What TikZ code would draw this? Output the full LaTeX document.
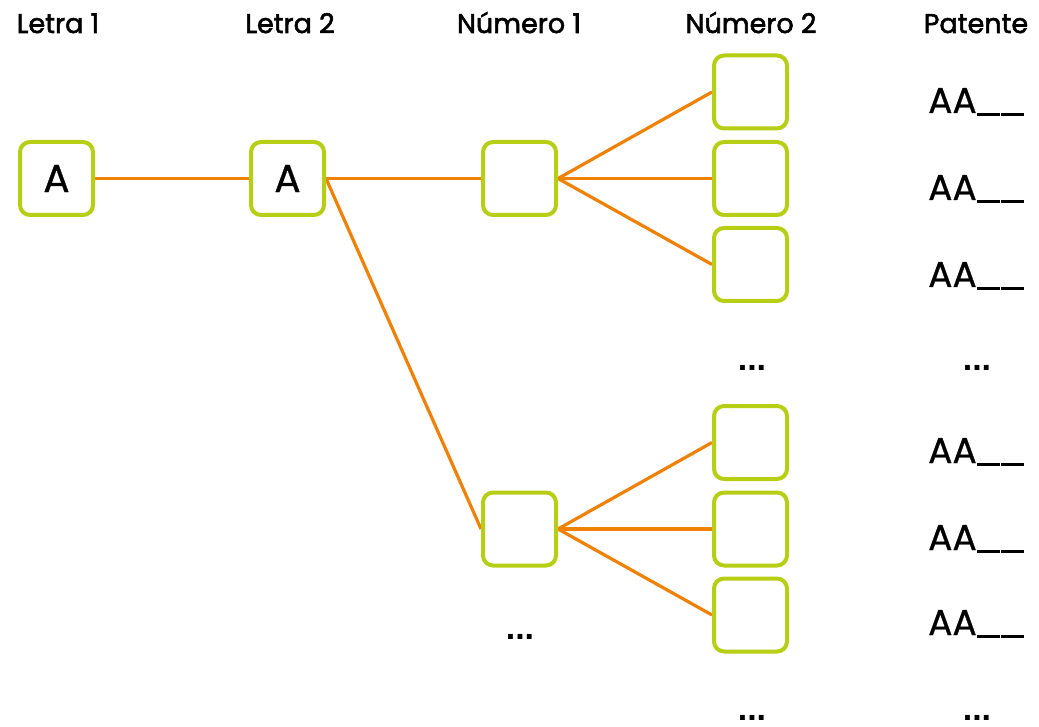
\documentclass[tikz,border=0pt]{standalone}
\usepackage{fontspec}
\setmainfont{Poppins}
\newfontfamily\hdrfont[FakeBold=2]{Poppins}
\newfontfamily\txtfont[FakeBold=0.8]{Poppins}
\newfontfamily\dotfont{Liberation Sans Bold}
\usetikzlibrary{backgrounds}
\definecolor{boxgreen}{HTML}{B6CE14}
\definecolor{lineorange}{HTML}{EF8106}
\newcommand{\blank}{\rule[-3pt]{23pt}{3.4pt}\hspace{1pt}\rule[-3pt]{23pt}{3.4pt}}
\tikzset{
  slot/.style={draw=boxgreen, line width=4pt, rounded corners=10pt, fill=white, minimum size=73pt, inner sep=0pt, font=\txtfont\fontsize{39}{42}\selectfont},
  link/.style={draw=lineorange, line width=3.2pt},
  head/.style={font=\hdrfont\fontsize{27}{30}\selectfont, inner sep=0pt, anchor=base},
  plate/.style={font=\txtfont\fontsize{36}{40}\selectfont, inner sep=0pt, anchor=base west},
  more/.style={font=\dotfont\fontsize{34}{36}\selectfont, inner sep=0pt}
}
\begin{document}
\begin{tikzpicture}[x=1pt,y=-1pt]
\useasboundingbox (0,0) rectangle (1039,727);
% headers
\node[head] (h1) at (58,33) {Letra 1};
\node[head] (h2) at (290,33) {Letra 2};
\node[head] (h3) at (519,33) {Número 1};
\node[head] (h4) at (751,33) {Número 2};
\node[head] (h5) at (976,33) {Patente};
% boxes
\node[slot] (l1) at (56.5,178.5) {A};
\node[slot] (l2) at (287.5,178.5) {A};
\node[slot] (na) at (519.5,178.5) {};
\node[slot] (nb) at (519.5,529) {};
\node[slot] (a1) at (750.5,92) {};
\node[slot] (a2) at (750.5,178.5) {};
\node[slot] (a3) at (750.5,264.5) {};
\node[slot] (b1) at (750.5,442.5) {};
\node[slot] (b2) at (750.5,529) {};
\node[slot] (b3) at (750.5,615) {};
% plates
\node[plate] (p1) at (928,113) {AA\blank};
\node[plate] (p2) at (928,200) {AA\blank};
\node[plate] (p3) at (928,287) {AA\blank};
\node[plate] (p4) at (928,463) {AA\blank};
\node[plate] (p5) at (928,550) {AA\blank};
\node[plate] (p6) at (928,635) {AA\blank};
% dots
\node[more] (d1) at (752,368) {...};
\node[more] (d2) at (977,368) {...};
\node[more] (d3) at (520,637) {...};
\node[more] (d4) at (752,718) {...};
\node[more] (d5) at (977,718) {...};
% links
\begin{scope}[on background layer]
\draw[link] (l1.east) -- (l2.west);
\draw[link] (l2.east) -- (na.west);
\draw[link] (l2.east) -- (nb.west);
\draw[link] (na.east) -- (a1.west);
\draw[link] (na.east) -- (a2.west);
\draw[link] (na.east) -- (a3.west);
\draw[link] (nb.east) -- (b1.west);
\draw[link] (nb.east) -- (b2.west);
\draw[link] (nb.east) -- (b3.west);
\end{scope}
\end{tikzpicture}
\end{document}
